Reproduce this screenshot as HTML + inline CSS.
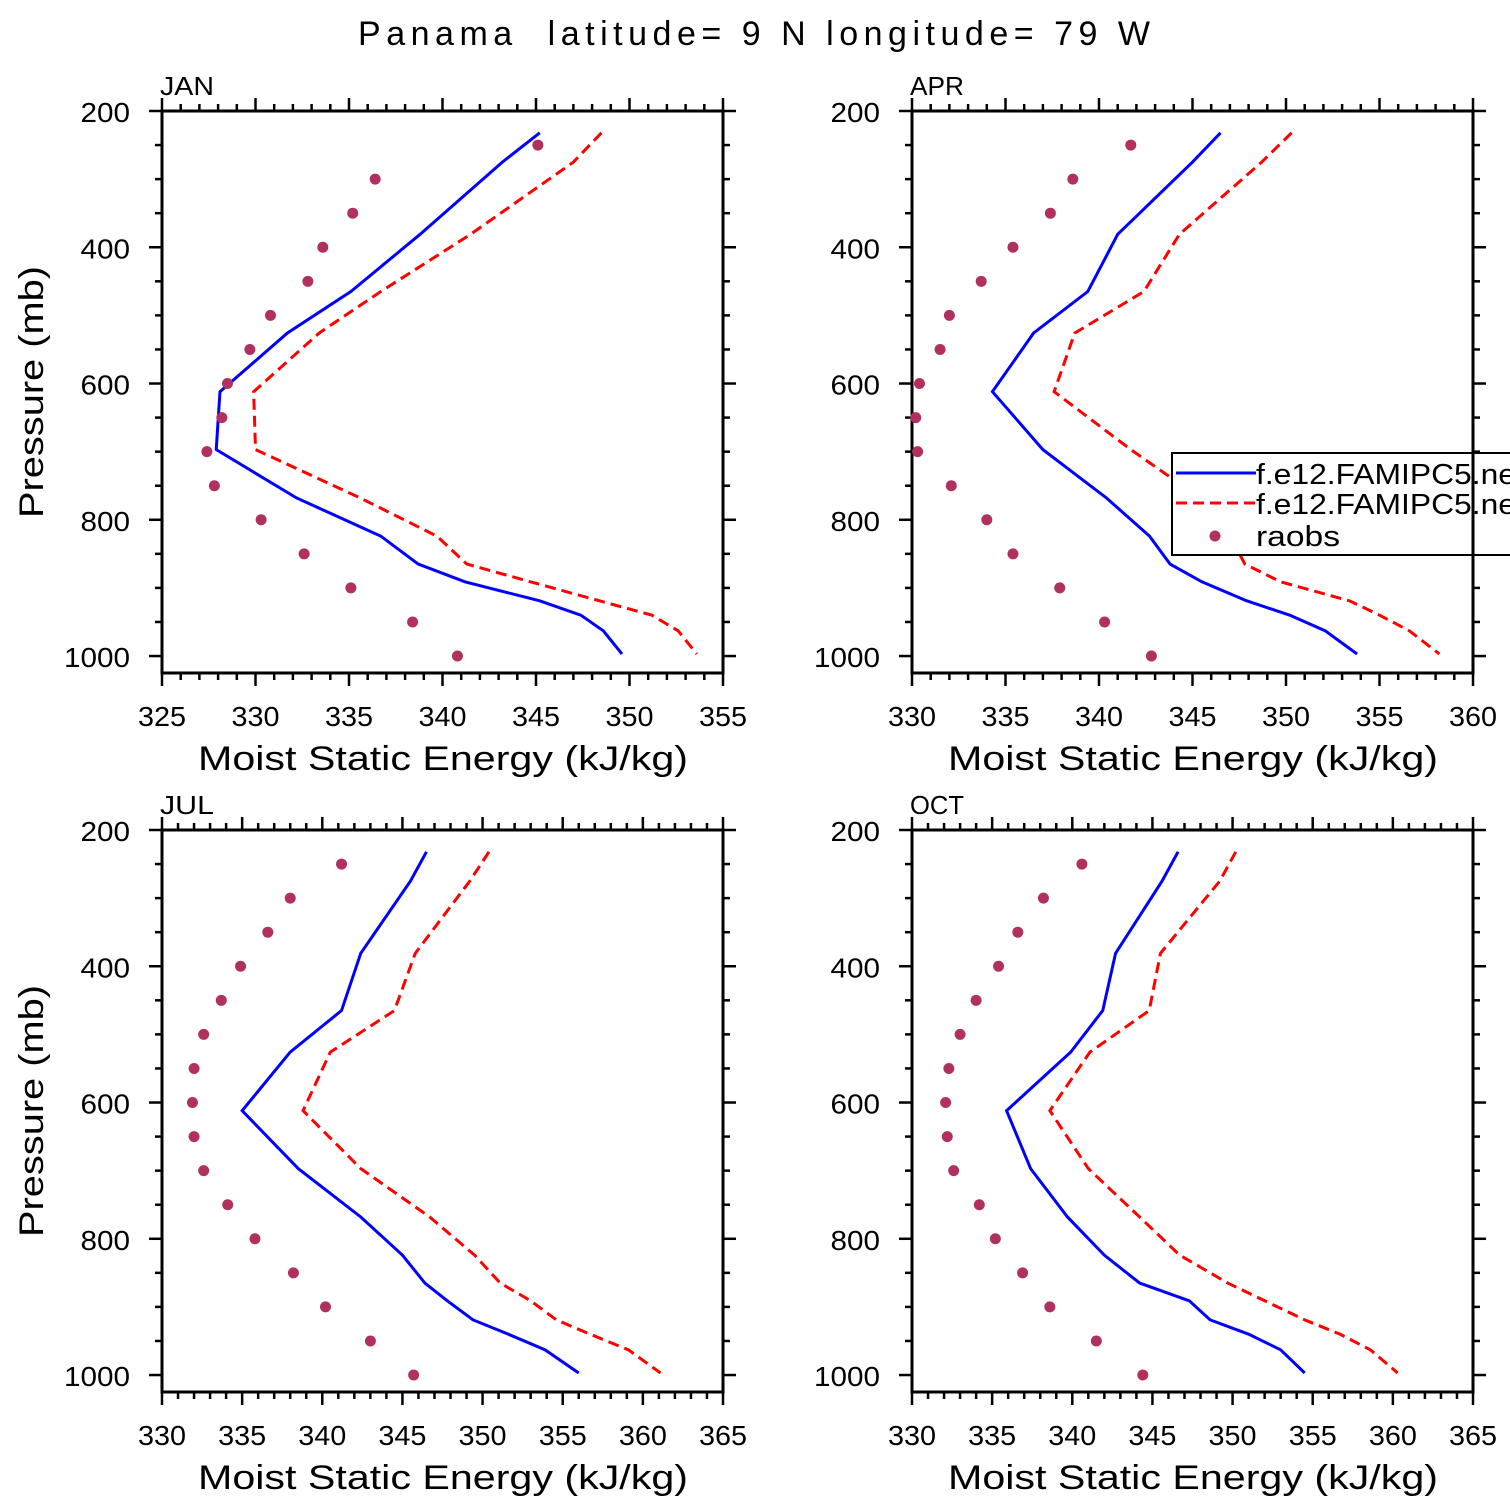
<!DOCTYPE html>
<html><head><meta charset="utf-8"><style>
html,body{margin:0;padding:0;background:#fff}
svg{display:block}
text{font-family:"Liberation Sans",sans-serif;fill:#000}
</style></head><body>
<svg id="c" width="1510" height="1510" viewBox="0 0 1510 1510">
<text x="358" y="45" font-size="34" textLength="792" lengthAdjust="spacing">Panama&#160;&#160;latitude= 9 N longitude= 79 W</text>
</svg>
<script>
const modelP=[232,275,381,465,526,612,697,768,824,865,891,919,940,963,997];
const obsP=[250,300,350,400,450,500,550,600,650,700,750,800,850,900,950,1000];
const panelNames=["JAN","APR","JUL","OCT"];
const xRanges=[[325,355],[330,360],[330,365],[330,365]];
const janBlue=[345.2,343.2,338.8,335.1,331.7,328.1,327.9,332.2,336.7,338.7,341.2,345.2,347.4,348.6,349.6];
const janRed=[348.5,347.0,341.5,336.7,333.4,329.9,330.0,335.6,339.7,341.3,344.7,348.4,351.2,352.6,353.6];
const janObs=[345.1,336.4,335.2,333.6,332.8,330.8,329.7,328.5,328.2,327.4,327.8,330.3,332.6,335.1,338.4,340.8];
const aprBlue=[346.5,345.0,341.0,339.4,336.5,334.3,337.0,340.4,342.7,343.8,345.5,347.9,350.2,352.1,353.8];
const aprRed=[350.3,348.7,344.3,342.4,338.7,337.6,341.7,345.4,347.0,347.8,349.7,353.4,355.0,356.6,358.2];
const aprObs=[341.7,338.6,337.4,335.4,333.7,332.0,331.5,330.4,330.2,330.3,332.1,334.0,335.4,337.9,340.3,342.8];
const julBlue=[346.5,345.5,342.4,341.2,338.0,335.0,338.5,342.4,345.0,346.4,347.8,349.4,351.6,353.9,356.0];
const julRed=[350.4,349.2,345.8,344.5,340.5,338.8,342.4,346.7,349.5,351.1,353.0,354.6,356.7,359.1,361.1];
const julObs=[341.2,338.0,336.6,334.9,333.7,332.6,332.0,331.9,332.0,332.6,334.1,335.8,338.2,340.2,343.0,345.7];
const octBlue=[346.6,345.6,342.7,341.9,339.9,335.9,337.4,339.7,342.0,344.2,347.3,348.6,351.0,353.0,354.5];
const octRed=[350.2,349.2,345.5,344.8,341.1,338.6,341.0,344.2,346.7,349.7,352.0,354.5,356.7,358.6,360.3];
const octObs=[340.6,338.2,336.6,335.4,334.0,333.0,332.3,332.1,332.2,332.6,334.2,335.2,336.9,338.6,341.5,344.4];
const yTicks=[200,400,600,800,1000];

const blues=[janBlue,aprBlue,julBlue,octBlue];
const reds=[janRed,aprRed,julRed,octRed];
const obs=[janObs,aprObs,julObs,octObs];
const NS="http://www.w3.org/2000/svg";
const svg=document.getElementById('c');
function mk(tag,attrs,parent){const e=document.createElementNS(NS,tag);for(const k in attrs)e.setAttribute(k,attrs[k]);(parent||svg).appendChild(e);return e;}
const L=[162,912],T=[111,830],W=561,H=562;
for(let i=0;i<4;i++){
  const x0=L[i%2],y0=T[Math.floor(i/2)],x1=x0+W,y1=y0+H;
  const [xmin,xmax]=xRanges[i];
  const sx=v=>x0+(v-xmin)/(xmax-xmin)*W;
  const sy=p=>y0+(p-200)*0.6813;
  const g=mk('g',{});
  
  
  const lab=mk('text',{x:x0-2,y:y0-16,'font-size':26,textLength:54,lengthAdjust:'spacingAndGlyphs'},g);lab.textContent=panelNames[i];
  
  
  const box=mk('rect',{x:x0,y:y0,width:W,height:H,fill:'none',stroke:'#000','stroke-width':3},g);
  
  
  for(let v=xmin;v<=xmax;v++){
    const X=sx(v),maj=(v%5===0),len=maj?13:7;
    mk('line',{x1:X,x2:X,y1:y1,y2:y1+len,stroke:'#000','stroke-width':2.5},g);
    mk('line',{x1:X,x2:X,y1:y0,y2:y0-len,stroke:'#000','stroke-width':2.5},g);
    if(maj){const t=mk('text',{x:X,y:y1+53,'text-anchor':'middle','font-size':28,textLength:48,lengthAdjust:'spacingAndGlyphs'},g);t.textContent=v;
      
      }
  }
  for(let p=200;p<=1000;p+=50){
    const Y=sy(p),maj=(p%200===0),len=maj?13:7;
    mk('line',{x1:x0,x2:x0-len,y1:Y,y2:Y,stroke:'#000','stroke-width':2.5},g);
    mk('line',{x1:x1,x2:x1+len,y1:Y,y2:Y,stroke:'#000','stroke-width':2.5},g);
  }
  yTicks.forEach(p=>{const s=String(p);const t=mk('text',{x:x0-32,y:sy(p)+11,'text-anchor':'end','font-size':28,textLength:s.length*16.5,lengthAdjust:'spacingAndGlyphs'},g);t.textContent=s;
    
    });
  const xt=mk('text',{x:x0+36,y:y1+97,'font-size':34,textLength:490,lengthAdjust:'spacingAndGlyphs'},g);xt.textContent='Moist Static Energy (kJ/kg)';
  
  
  if(i%2===0){const yt=mk('text',{x:0,y:0,'font-size':34,textLength:252,lengthAdjust:'spacingAndGlyphs',transform:`translate(43,${y0+407}) rotate(-90)`},g);yt.textContent='Pressure (mb)';
    
    }
  const bl=mk('polyline',{points:blues[i].map((v,k)=>sx(v)+','+sy(modelP[k])).join(' '),fill:'none',stroke:'#0000ff','stroke-width':3},g);
  
  
  const rl=mk('polyline',{points:reds[i].map((v,k)=>sx(v)+','+sy(modelP[k])).join(' '),fill:'none',stroke:'#ff0000','stroke-width':3,'stroke-dasharray':'11,6'},g);
  
  
  obs[i].forEach((v,k)=>{const c=mk('circle',{cx:sx(v),cy:sy(obsP[k]),r:5.5,fill:'#b03060'},g);
    
    });
}
const lg=mk('g',{});


mk('rect',{x:1172,y:453,width:345,height:102,fill:'#fff',stroke:'#000','stroke-width':2},lg);
mk('line',{x1:1176,x2:1256,y1:473,y2:473,stroke:'#0000ff','stroke-width':3},lg);
mk('line',{x1:1176,x2:1256,y1:503,y2:503,stroke:'#ff0000','stroke-width':3,'stroke-dasharray':'11,6'},lg);
mk('circle',{cx:1215,cy:536,r:5.5,fill:'#b03060'},lg);
[['f.e12.FAMIPC5.ne',484,260],['f.e12.FAMIPC5.ne',514,260],['raobs',546,84]].forEach(([s,y,w])=>{const t=mk('text',{x:1256,y:y,'font-size':29,textLength:w,lengthAdjust:'spacingAndGlyphs'},lg);t.textContent=s;
  
  });
mk('line',{x1:1473,x2:1473,y1:453,y2:555,stroke:'#000','stroke-width':3},lg);
</script>
</body></html>
